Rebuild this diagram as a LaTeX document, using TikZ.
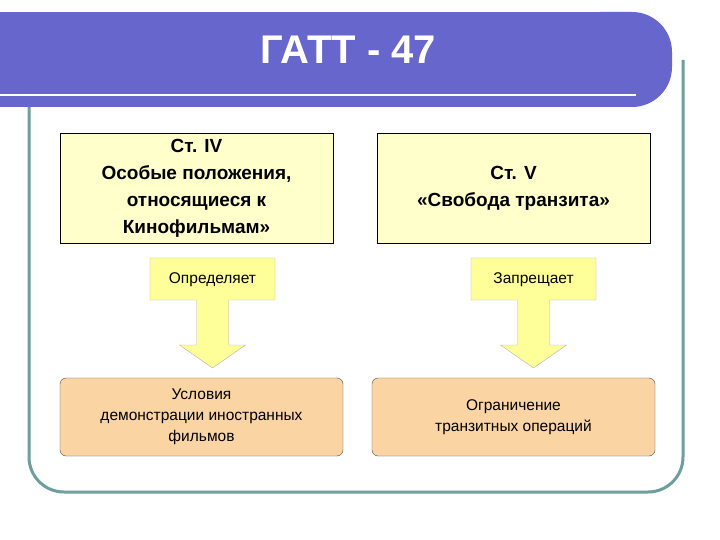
\documentclass[tikz,border=0pt]{standalone}
\usepackage{fontspec}
\setmainfont{Liberation Sans}
\definecolor{hdr}{HTML}{6666CC}
\definecolor{frm}{HTML}{6E9E9E}
\definecolor{ylw}{HTML}{FFFFCC}
\definecolor{arr}{HTML}{FFFF99}
\definecolor{pch}{HTML}{FBD4A4}
\tikzset{
 topbox/.style={draw=black,fill=ylw,minimum width=273pt,minimum height=110pt,align=center,font=\bfseries\fontsize{19}{27}\selectfont},
 botbox/.style={draw=black!70,fill=pch,rounded corners=6pt,minimum width=283pt,minimum height=78pt,align=center,font=\fontsize{15.5}{21}\selectfont},
 callout/.style={draw=gray!60,fill=arr},
 lbl/.style={font=\fontsize{15.5}{18}\selectfont}
}
\begin{document}
\begin{tikzpicture}[x=1pt,y=-1pt]
\useasboundingbox (0,0) rectangle (720,540);
\fill[white] (0,0) rectangle (720,540);
% frame
\draw[frm,line width=3pt,rounded corners=35pt] (29,100) -- (29,492) -- (683,492) -- (683,60);
% header
\fill[hdr] (0,12) rectangle (600,107);
\fill[hdr,rounded corners=40pt] (560,12) rectangle (672,107);
\draw[white,line width=2pt] (0,95) -- (636,95);
\node[white,font=\bfseries\fontsize{40}{44}\selectfont] (title) at (348,50) {ГАТТ - 47};
% top boxes
\node[topbox] (a) at (196.5,188) {Ст. IV\\Особые положения,\\относящиеся к\\Кинофильмам»};
\node[topbox] (b) at (513.5,188) {Ст. V\\«Свобода  транзита»};
% callouts
\foreach \cx/\nm/\t in {212.5/l/Определяет, 533.5/r/Запрещает}{
 \draw[callout] (\cx-62.5,258) -- (\cx+62.5,258) -- (\cx+62.5,300) -- (\cx+16,300) -- (\cx+16,345) -- (\cx+33,345) -- (\cx,368) -- (\cx-33,345) -- (\cx-16,345) -- (\cx-16,300) -- (\cx-62.5,300) -- cycle;
 \node[lbl] (\nm) at (\cx,280) {\t};
}
% bottom boxes
\node[botbox] (c) at (201.5,417) {Условия\\демонстрации иностранных\\фильмов};
\node[botbox] (d) at (513.5,417) {Ограничение\\транзитных операций};
\end{tikzpicture}
\end{document}
